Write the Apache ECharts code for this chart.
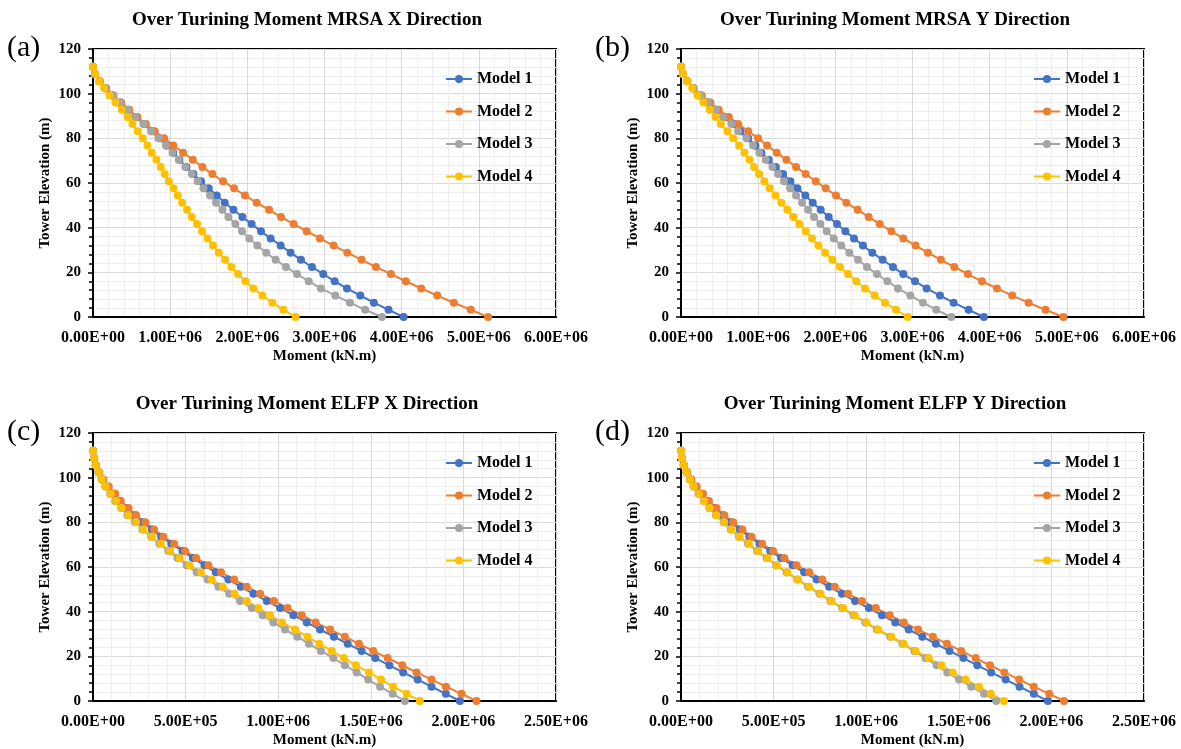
<!DOCTYPE html>
<html>
<head>
<meta charset="utf-8">
<title>Over Turning Moment</title>
<script src="https://cdn.jsdelivr.net/npm/echarts@6/dist/echarts.min.js"></script>
<style>
  html, body { margin: 0; padding: 0; background: #fff; }
  #chart { width: 1181px; height: 749px; }
</style>
</head>
<body>
<div id="chart"></div>
<script>
// tower elevations (m), top to bottom
var elevations = [112, 108.8, 105.6, 102.4, 99.2, 96, 92.8, 89.6, 86.4, 83.2, 80, 76.8,
  73.6, 70.4, 67.2, 64, 60.8, 57.6, 54.4, 51.2, 48, 44.8, 41.6, 38.4, 35.2, 32, 28.8,
  25.6, 22.4, 19.2, 16, 12.8, 9.6, 6.4, 3.2, 0];

var modelNames = ['Model 1', 'Model 2', 'Model 3', 'Model 4'];

// moments in 1E+06 kN.m, same order as elevations
// (a) MRSA X
var mrsaX_m1 = [0, 0.026, 0.085, 0.165, 0.26, 0.36, 0.46, 0.56, 0.665, 0.765, 0.86, 0.955, 1.04, 1.12, 1.21, 1.30, 1.40, 1.50, 1.604, 1.707, 1.82, 1.936, 2.056, 2.177, 2.302, 2.432, 2.561, 2.695, 2.838, 2.984, 3.131, 3.291, 3.464, 3.64, 3.83, 4.025];
var mrsaX_m2 = [0, 0.027, 0.088, 0.17, 0.265, 0.365, 0.47, 0.575, 0.685, 0.80, 0.922, 1.042, 1.167, 1.293, 1.418, 1.547, 1.685, 1.828, 1.97, 2.121, 2.281, 2.436, 2.60, 2.769, 2.941, 3.118, 3.295, 3.481, 3.667, 3.86, 4.055, 4.253, 4.461, 4.676, 4.896, 5.12];
var mrsaX_m3 = [0, 0.024, 0.08, 0.158, 0.257, 0.352, 0.451, 0.546, 0.654, 0.753, 0.848, 0.947, 1.03, 1.111, 1.198, 1.28, 1.357, 1.431, 1.517, 1.595, 1.677, 1.754, 1.845, 1.931, 2.026, 2.13, 2.246, 2.367, 2.501, 2.644, 2.795, 2.954, 3.14, 3.33, 3.528, 3.744];
var mrsaX_m4 = [0, 0.028, 0.08, 0.145, 0.214, 0.291, 0.373, 0.447, 0.511, 0.58, 0.645, 0.706, 0.762, 0.822, 0.878, 0.93, 0.982, 1.042, 1.098, 1.155, 1.219, 1.28, 1.349, 1.413, 1.483, 1.556, 1.63, 1.711, 1.793, 1.88, 1.974, 2.078, 2.195, 2.324, 2.467, 2.626];
// (b) MRSA Y
var mrsaY_m1 = [0, 0.024, 0.08, 0.158, 0.257, 0.36, 0.46, 0.567, 0.675, 0.766, 0.87, 0.965, 1.042, 1.137, 1.228, 1.323, 1.418, 1.508, 1.612, 1.707, 1.81, 1.914, 2.022, 2.13, 2.242, 2.358, 2.479, 2.613, 2.747, 2.881, 3.032, 3.183, 3.356, 3.533, 3.727, 3.925];
var mrsaY_m2 = [0, 0.026, 0.085, 0.165, 0.27, 0.38, 0.49, 0.62, 0.74, 0.87, 0.999, 1.116, 1.241, 1.366, 1.491, 1.616, 1.746, 1.875, 2.009, 2.143, 2.289, 2.432, 2.575, 2.726, 2.881, 3.04, 3.2, 3.368, 3.541, 3.718, 3.899, 4.094, 4.292, 4.504, 4.724, 4.957];
var mrsaY_m3 = [0, 0.024, 0.08, 0.158, 0.257, 0.352, 0.451, 0.546, 0.654, 0.74, 0.848, 0.934, 1.016, 1.098, 1.185, 1.258, 1.336, 1.413, 1.491, 1.569, 1.646, 1.724, 1.806, 1.888, 1.979, 2.078, 2.182, 2.294, 2.41, 2.54, 2.674, 2.812, 2.972, 3.136, 3.308, 3.502];
var mrsaY_m4 = [0, 0.028, 0.08, 0.145, 0.214, 0.291, 0.373, 0.447, 0.516, 0.602, 0.675, 0.753, 0.822, 0.887, 0.947, 1.012, 1.081, 1.15, 1.224, 1.301, 1.379, 1.457, 1.534, 1.616, 1.698, 1.78, 1.867, 1.962, 2.061, 2.165, 2.272, 2.385, 2.51, 2.644, 2.786, 2.937];
// (c) ELFP X
var elfpX_m1 = [0, 0.005, 0.015, 0.03, 0.05, 0.075, 0.11, 0.147, 0.183, 0.227, 0.269, 0.318, 0.368, 0.423, 0.483, 0.539, 0.602, 0.663, 0.731, 0.798, 0.866, 0.938, 1.01, 1.082, 1.154, 1.226, 1.301, 1.375, 1.45, 1.524, 1.6, 1.675, 1.753, 1.828, 1.905, 1.981];
var elfpX_m2 = [0, 0.006, 0.017, 0.033, 0.056, 0.085, 0.12, 0.15, 0.192, 0.233, 0.282, 0.33, 0.38, 0.438, 0.497, 0.557, 0.623, 0.691, 0.762, 0.83, 0.902, 0.977, 1.051, 1.127, 1.202, 1.28, 1.36, 1.436, 1.513, 1.591, 1.67, 1.747, 1.828, 1.906, 1.99, 2.071];
var elfpX_m3 = [0, 0.005, 0.014, 0.028, 0.046, 0.066, 0.093, 0.12, 0.152, 0.186, 0.227, 0.267, 0.314, 0.359, 0.407, 0.456, 0.506, 0.56, 0.618, 0.677, 0.735, 0.794, 0.857, 0.916, 0.974, 1.037, 1.103, 1.166, 1.231, 1.298, 1.36, 1.424, 1.486, 1.55, 1.618, 1.684];
var elfpX_m4 = [0, 0.005, 0.015, 0.03, 0.048, 0.069, 0.096, 0.125, 0.155, 0.191, 0.233, 0.272, 0.317, 0.366, 0.416, 0.467, 0.521, 0.582, 0.641, 0.7, 0.764, 0.83, 0.893, 0.956, 1.021, 1.091, 1.158, 1.222, 1.289, 1.355, 1.42, 1.49, 1.555, 1.621, 1.693, 1.765];
// (d) ELFP Y
var elfpY_m1 = [0, 0.005, 0.015, 0.03, 0.05, 0.076, 0.11, 0.146, 0.184, 0.226, 0.27, 0.318, 0.369, 0.424, 0.482, 0.54, 0.603, 0.665, 0.732, 0.8, 0.869, 0.94, 1.014, 1.085, 1.157, 1.229, 1.303, 1.376, 1.45, 1.525, 1.6, 1.675, 1.753, 1.828, 1.905, 1.981];
var elfpY_m2 = [0, 0.006, 0.017, 0.034, 0.056, 0.085, 0.119, 0.151, 0.192, 0.234, 0.282, 0.331, 0.381, 0.438, 0.497, 0.558, 0.624, 0.692, 0.762, 0.83, 0.902, 0.977, 1.052, 1.127, 1.203, 1.28, 1.36, 1.436, 1.513, 1.591, 1.668, 1.746, 1.826, 1.905, 1.988, 2.068];
var elfpY_m3 = [0, 0.005, 0.014, 0.029, 0.047, 0.067, 0.094, 0.123, 0.153, 0.189, 0.23, 0.269, 0.313, 0.362, 0.411, 0.462, 0.513, 0.57, 0.628, 0.686, 0.748, 0.807, 0.87, 0.932, 0.995, 1.058, 1.13, 1.196, 1.26, 1.32, 1.38, 1.438, 1.501, 1.567, 1.636, 1.702];
var elfpY_m4 = [0, 0.005, 0.015, 0.03, 0.048, 0.069, 0.096, 0.125, 0.155, 0.191, 0.233, 0.272, 0.317, 0.366, 0.416, 0.467, 0.517, 0.575, 0.632, 0.691, 0.753, 0.812, 0.875, 0.938, 1.001, 1.064, 1.136, 1.202, 1.267, 1.337, 1.406, 1.467, 1.537, 1.609, 1.672, 1.744];

var colors = ['#4472C4', '#ED7D31', '#A5A5A5', '#FFC000'];
var FONT = '"Liberation Serif", "Times New Roman", serif';

var panels = [
  { tag: '(a)', title: 'Over Turining Moment MRSA X Direction', left: 93, top: 49, xMax: 6e6, xStep: 1e6,
    models: [mrsaX_m1, mrsaX_m2, mrsaX_m3, mrsaX_m4] },
  { tag: '(b)', title: 'Over Turining Moment MRSA Y Direction', left: 681, top: 49, xMax: 6e6, xStep: 1e6,
    models: [mrsaY_m1, mrsaY_m2, mrsaY_m3, mrsaY_m4] },
  { tag: '(c)', title: 'Over Turining Moment ELFP X Direction', left: 93, top: 433, xMax: 2.5e6, xStep: 5e5,
    models: [elfpX_m1, elfpX_m2, elfpX_m3, elfpX_m4] },
  { tag: '(d)', title: 'Over Turining Moment ELFP Y Direction', left: 681, top: 433, xMax: 2.5e6, xStep: 5e5,
    models: [elfpY_m1, elfpY_m2, elfpY_m3, elfpY_m4] }
];
var W = 463, H = 268;

// 1.00E+06 style labels
function sci(v) {
  if (v === 0) return '0.00E+00';
  var e = Math.floor(Math.log10(Math.abs(v)) + 1e-9);
  var m = v / Math.pow(10, e);
  return m.toFixed(2) + 'E' + (e < 0 ? '-' : '+') + String(Math.abs(e)).padStart(2, '0');
}

var grid = [], xAxis = [], yAxis = [], series = [], legend = [], graphic = [];

panels.forEach(function (p, i) {
  grid.push({ left: p.left, top: p.top, width: W, height: H, show: true,
    borderColor: '#000', borderWidth: 2, backgroundColor: 'transparent' });

  xAxis.push({
    gridIndex: i, type: 'value', min: 0, max: p.xMax, interval: p.xStep,
    name: 'Moment (kN.m)', nameLocation: 'middle', nameGap: 32,
    nameTextStyle: { fontFamily: FONT, fontWeight: 'bold', fontSize: 15, color: '#000' },
    axisLine: { show: true, lineStyle: { color: '#000', width: 2 } },
    axisTick: { show: false },
    axisLabel: { formatter: sci, margin: 13, fontFamily: FONT, fontWeight: 'bold', fontSize: 16, color: '#000' },
    splitLine: { show: true, lineStyle: { color: '#D9D9D9', width: 1 } },
    minorTick: { show: false, splitNumber: 5 },
    minorSplitLine: { show: true, lineStyle: { color: '#EEEEEE', width: 1 } }
  });

  yAxis.push({
    gridIndex: i, type: 'value', min: 0, max: 120, interval: 20,
    name: 'Tower Elevation (m)', nameLocation: 'middle', nameGap: 40,
    nameTextStyle: { fontFamily: FONT, fontWeight: 'bold', fontSize: 15, color: '#000' },
    axisLine: { show: true, lineStyle: { color: '#000', width: 2 } },
    axisTick: { show: true, length: 5, lineStyle: { color: '#000', width: 1.5 } },
    minorTick: { show: true, splitNumber: 5, length: 4, lineStyle: { color: '#000', width: 1.5 } },
    axisLabel: { margin: 12, fontFamily: FONT, fontWeight: 'bold', fontSize: 15, color: '#000' },
    splitLine: { show: true, lineStyle: { color: '#D9D9D9', width: 1 } },
    minorSplitLine: { show: true, lineStyle: { color: '#EEEEEE', width: 1 } }
  });

  p.models.forEach(function (vals, k) {
    series.push({
      name: modelNames[k], type: 'line', xAxisIndex: i, yAxisIndex: i,
      data: vals.map(function (v, j) { return [v * 1e6, elevations[j]]; }),
      symbol: 'circle', symbolSize: 8,
      lineStyle: { color: colors[k], width: 2 },
      itemStyle: { color: colors[k] },
      emphasis: { disabled: true },
      animation: false
    });
  });

  legend.push({
    orient: 'vertical', left: p.left + 352, top: p.top + 22, itemGap: 16.5, padding: 0,
    itemWidth: 26, itemHeight: 10, data: modelNames,
    textStyle: { fontFamily: FONT, fontWeight: 'bold', fontSize: 16, color: '#000' },
    selectedMode: false
  });

  // chart title, centred a bit left of the plot centre
  graphic.push({
    type: 'text', x: p.left + 214, y: p.top - 29,
    style: { text: p.title, fontFamily: FONT, fontWeight: 'bold', fontSize: 19, fill: '#000',
      align: 'center', verticalAlign: 'middle' }
  });
  graphic.push({
    type: 'text', x: p.left - 86, y: p.top - 1,
    style: { text: p.tag, fontFamily: FONT, fontSize: 30, fill: '#000', verticalAlign: 'middle' }
  });
});

var chart = echarts.init(document.getElementById('chart'));
chart.setOption({
  backgroundColor: '#fff',
  color: colors,
  animation: false,
  grid: grid, xAxis: xAxis, yAxis: yAxis,
  legend: legend, series: series, graphic: graphic
});
</script>
</body>
</html>
